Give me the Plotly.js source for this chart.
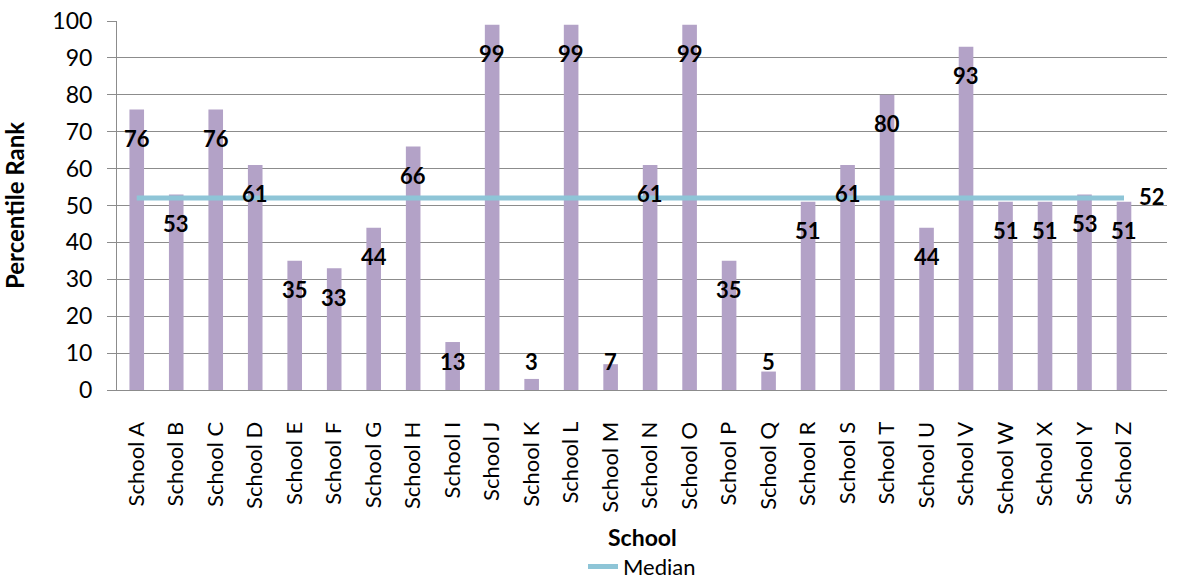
<!DOCTYPE html>
<html>
<head>
<meta charset="utf-8">
<script src="https://cdn.plot.ly/plotly-3.0.1.min.js"></script>
<style>
  html, body { margin: 0; padding: 0; background: #fff; }
  #chart { width: 1183px; height: 583px; }
</style>
</head>
<body>
<div id="chart"></div>
<script>
// Percentile rank per school, with the overall median drawn as a flat line
const schools = ["School A","School B","School C","School D","School E","School F","School G",
  "School H","School I","School J","School K","School L","School M","School N","School O",
  "School P","School Q","School R","School S","School T","School U","School V","School W",
  "School X","School Y","School Z"];
const percentileRank = [76,53,76,61,35,33,44,66,13,99,3,99,7,61,99,35,5,51,61,80,44,93,51,51,53,51];
const medianValue = 52;
const yTicks = [0,10,20,30,40,50,60,70,80,90,100];

const FONT = "Lato, 'Open Sans', sans-serif";
const barColor = "#B3A2C7";
const lineColor = "#8EC5D7";
const gridColor = "#8C8C8C";

const bars = {
  type: "bar",
  x: schools,
  y: percentileRank,
  marker: { color: barColor, line: { width: 0 } },
  width: 0.37,
  showlegend: false,
  hoverinfo: "x+y"
};

const median = {
  type: "scatter",
  mode: "lines",
  name: "Median",
  x: schools,
  y: schools.map(() => medianValue),
  line: { color: lineColor, width: 5 },
  showlegend: true
};

// Value labels sit just below each bar top; short bars get a common floor
const labelFloor = 15.5;
const labelFont = { family: FONT, size: 22, color: "#000", weight: "bold" };
const annotations = percentileRank.map((v, i) => ({
  x: schools[i],
  y: Math.max(v, labelFloor),
  yshift: -29,
  text: String(v),
  showarrow: false,
  font: labelFont,
  xanchor: "center",
  yanchor: "middle"
}));
annotations.push({
  x: schools[schools.length - 1],
  y: medianValue,
  xshift: 13,
  yshift: 2,
  text: String(medianValue),
  showarrow: false,
  font: labelFont,
  xanchor: "left",
  yanchor: "middle"
});
// x-axis title, set below the rotated school names
annotations.push({
  xref: "paper", yref: "paper",
  x: 0.5, y: 0,
  yshift: -147,
  text: "School",
  showarrow: false,
  font: { family: FONT, size: 23, color: "#000", weight: "bold" },
  xanchor: "center",
  yanchor: "middle"
});

const layout = {
  width: 1183,
  height: 583,
  margin: { l: 117, r: 16, t: 21, b: 193, autoexpand: false },
  paper_bgcolor: "#fff",
  plot_bgcolor: "#fff",
  font: { family: FONT, size: 22, color: "#000" },
  bargap: 0.63,
  xaxis: {
    type: "category",
    tickangle: -90,
    tickfont: { family: FONT, size: 22, color: "#000" },
    ticks: "",
    ticklabelstandoff: 22,
    showgrid: false,
    showline: true,
    linecolor: gridColor,
    linewidth: 1,
    fixedrange: true
  },
  yaxis: {
    range: [0, 100],
    tickvals: yTicks,
    ticktext: yTicks.map(String),
    tickfont: { family: FONT, size: 23, color: "#000" },
    ticks: "outside",
    ticklen: 9,
    tickcolor: gridColor,
    showgrid: true,
    gridcolor: gridColor,
    gridwidth: 1,
    showline: true,
    linecolor: gridColor,
    linewidth: 1,
    zeroline: false,
    ticklabelstandoff: 10,
    title: { text: "Percentile Rank", font: { family: FONT, size: 24, color: "#000", weight: "bold" }, standoff: 24 },
    fixedrange: true
  },
  legend: {
    orientation: "h",
    x: 0.5, xanchor: "center",
    yref: "container",
    y: 0.028, yanchor: "middle",
    font: { family: FONT, size: 22, color: "#000" },
    itemwidth: 30
  },
  annotations: annotations
};

Plotly.newPlot("chart", [bars, median], layout, { displayModeBar: false, staticPlot: true });
</script>
</body>
</html>
